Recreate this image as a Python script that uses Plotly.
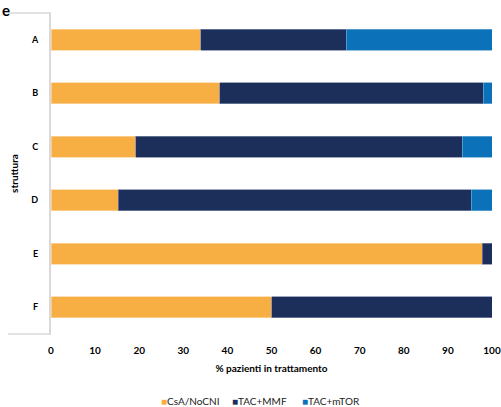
import plotly.graph_objects as go

categories = ["A", "B", "C", "D", "E", "F"]
csa_nocni = [34, 38.3, 19.2, 15.2, 97.8, 50]
tac_mmf = [33, 59.7, 74.1, 80.1, 2.2, 50]
tac_mtor = [33, 2.0, 6.7, 4.7, 0, 0]
x_ticks = [0, 10, 20, 30, 40, 50, 60, 70, 80, 90, 100]

series = [
    ("CsA/NoCNI", csa_nocni, "#F7AE42", "rgba(252,214,160,0.9)"),
    ("TAC+MMF", tac_mmf, "#1C2E5A", "rgba(120,135,165,0.9)"),
    ("TAC+mTOR", tac_mtor, "#0B72B9", "rgba(110,170,215,0.9)"),
]

FONT = "Lato"
L, R, T, B = 51, 9, 13, 73
PW, PH = 501 - L - R, 407 - T - B

def px(x):
    return (x - L) / PW

def py(y):
    return 1 - (y - T) / PH

fig = go.Figure()
for name, vals, color, lc in series:
    fig.add_trace(go.Bar(
        y=categories, x=vals, name=name, orientation="h",
        marker=dict(color=color, line=dict(color=lc, width=0.8)),
    ))

# manual legend (centred row at the bottom)
legend_x = [px(159), px(230), px(300)]
annotations = []
for (name, vals, color, lc), lx in zip(series, legend_x):
    annotations.append(dict(
        text=f"<span style='color:{color}'>■</span>{name}", xref="paper", yref="paper",
        x=lx, xanchor="left", y=py(401), yanchor="middle", showarrow=False,
        font=dict(size=10, family=FONT, color="#222222")))

annotations.append(dict(
    text="<b>e</b>", xref="paper", yref="paper", x=px(0), xanchor="left",
    y=py(-1), yanchor="top", showarrow=False,
    font=dict(size=15, family=FONT, color="black")))

fig.update_layout(
    barmode="stack",
    bargap=0.6,
    width=501, height=407,
    margin=dict(l=L, r=R, t=T, b=B),
    paper_bgcolor="white", plot_bgcolor="white",
    font=dict(family=FONT, color="#000000"),
    showlegend=False,
    xaxis=dict(range=[0, 100], tickvals=x_ticks, showgrid=False, zeroline=False,
               showline=False, ticks="outside", ticklen=7, tickcolor="rgba(0,0,0,0)",
               automargin=False,
               tickfont=dict(size=10, family=FONT, weight="bold"),
               title=dict(text="% pazienti in trattamento", standoff=9,
                          font=dict(size=10, family=FONT, weight="bold"))),
    yaxis=dict(categoryorder="array", categoryarray=categories, autorange="reversed",
               showgrid=False, zeroline=False, showline=True, linecolor="#D9D9D9",
               linewidth=2, ticks="outside", ticklen=9, tickcolor="rgba(0,0,0,0)",
               automargin=False,
               tickfont=dict(size=9, family=FONT, weight="bold"),
               title=dict(text="struttura", standoff=10,
                          font=dict(size=10, family=FONT, weight="bold"))),
    shapes=[
        dict(type="line", xref="paper", yref="paper", x0=px(8), x1=0, y0=1, y1=1,
             line=dict(color="#D9D9D9", width=1.5)),
        dict(type="line", xref="paper", yref="paper", x0=px(8), x1=0, y0=0, y1=0,
             line=dict(color="#D9D9D9", width=1.5)),
    ],
    annotations=annotations,
)

fig.write_html(
    "out.html",
    config={"displayModeBar": False},
    post_script="document.body.style.margin='0';document.body.style.overflow='hidden';",
)
